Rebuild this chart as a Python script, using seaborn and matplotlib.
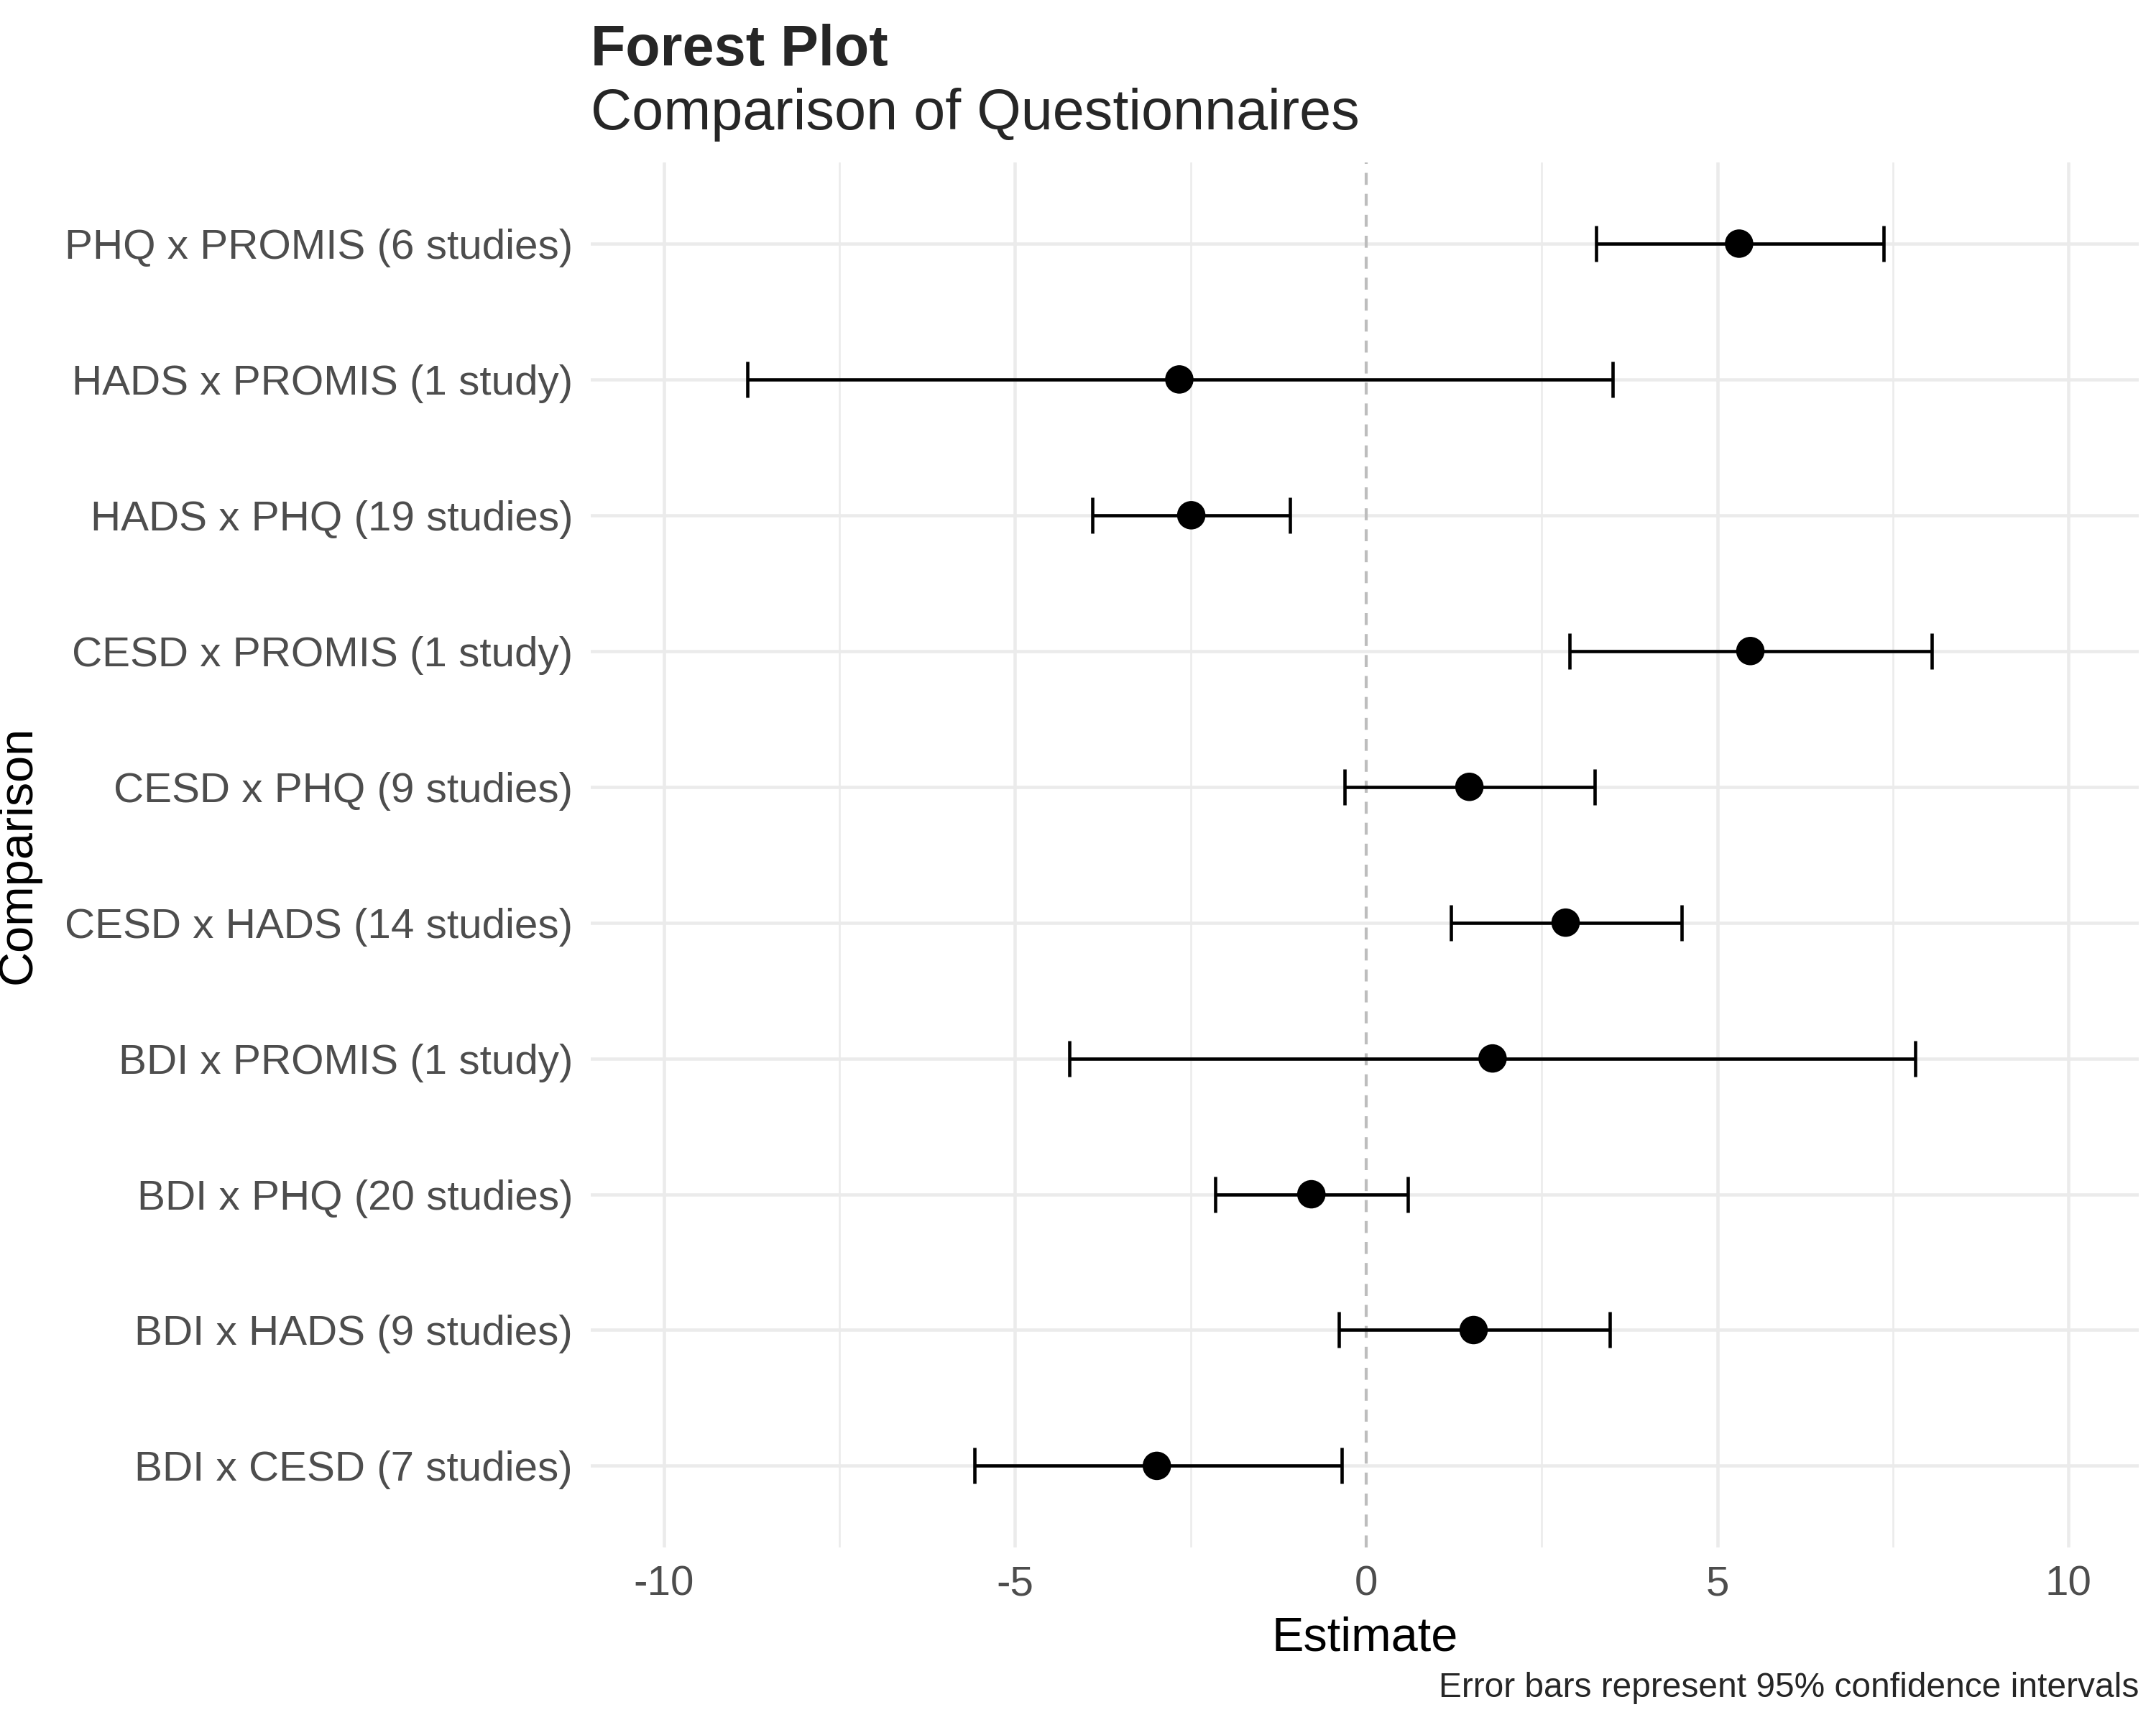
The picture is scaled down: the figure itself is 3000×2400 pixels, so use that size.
import matplotlib
matplotlib.use("Agg")
import matplotlib.pyplot as plt
import seaborn as sns
import pandas as pd

sns.set_theme(style="white")
plt.rcParams["font.family"] = ["Liberation Sans", "DejaVu Sans"]

comparisons = ["BDI x CESD (7 studies)", "BDI x HADS (9 studies)", "BDI x PHQ (20 studies)",
               "BDI x PROMIS (1 study)", "CESD x HADS (14 studies)", "CESD x PHQ (9 studies)",
               "CESD x PROMIS (1 study)", "HADS x PHQ (19 studies)", "HADS x PROMIS (1 study)",
               "PHQ x PROMIS (6 studies)"]
estimate = [-2.98, 1.53, -0.78, 1.80, 2.84, 1.47, 5.47, -2.49, -2.66, 5.31]
lower = [-5.58, -0.39, -2.15, -4.23, 1.21, -0.31, 2.90, -3.90, -8.81, 3.27]
upper = [-0.35, 3.47, 0.59, 7.82, 4.49, 3.25, 8.05, -1.08, 3.51, 7.37]

df = pd.DataFrame({"comparison": comparisons, "estimate": estimate,
                   "lower": lower, "upper": upper})
df["pos"] = range(len(df))

fig = plt.figure(figsize=(10, 8), dpi=300)
ax = fig.add_axes([0.274, 0.103, 0.718, 0.803])

# grid
for x in [-7.5, -2.5, 2.5, 7.5]:
    ax.axvline(x, color="#ebebeb", lw=0.6, zorder=0)
for x in [-10, -5, 5, 10]:
    ax.axvline(x, color="#ebebeb", lw=1.1, zorder=0)
for y in df["pos"]:
    ax.axhline(y, color="#ebebeb", lw=1.1, zorder=0)
ax.axvline(0, color="#bdbdbd", lw=1.0, ls=(0, (4, 3)), zorder=1)

ax.errorbar(df["estimate"], df["pos"],
            xerr=[df["estimate"] - df["lower"], df["upper"] - df["estimate"]],
            fmt="none", ecolor="black", elinewidth=1.1, capsize=6, capthick=1.1, zorder=2)
sns.scatterplot(data=df, x="estimate", y="pos", color="black", s=90, edgecolor="none",
                zorder=3, ax=ax)

ax.set_xlim(-11.04, 11.0)
ax.set_ylim(-0.6, 9.6)
ax.set_xticks([-10, -5, 0, 5, 10])
ax.set_xticklabels(["-10", "-5", "0", "5", "10"])
ax.set_yticks(df["pos"])
ax.set_yticklabels(df["comparison"])
ax.tick_params(axis="both", length=0, labelsize=14, labelcolor="#4d4d4d", pad=6)
for s in ax.spines.values():
    s.set_visible(False)
ax.set_xlabel("Estimate", fontsize=16, color="black", labelpad=4)
ax.set_ylabel("Comparison", fontsize=16, color="black", labelpad=8)

fig.text(0.274, 0.955, "Forest Plot", fontsize=19, fontweight="bold", ha="left", va="bottom")
fig.text(0.274, 0.918, "Comparison of Questionnaires", fontsize=19, ha="left", va="bottom")
fig.text(0.992, 0.012, "Error bars represent 95% confidence intervals", fontsize=11.5,
         ha="right", va="bottom")

fig.savefig("out.png", dpi=300)
